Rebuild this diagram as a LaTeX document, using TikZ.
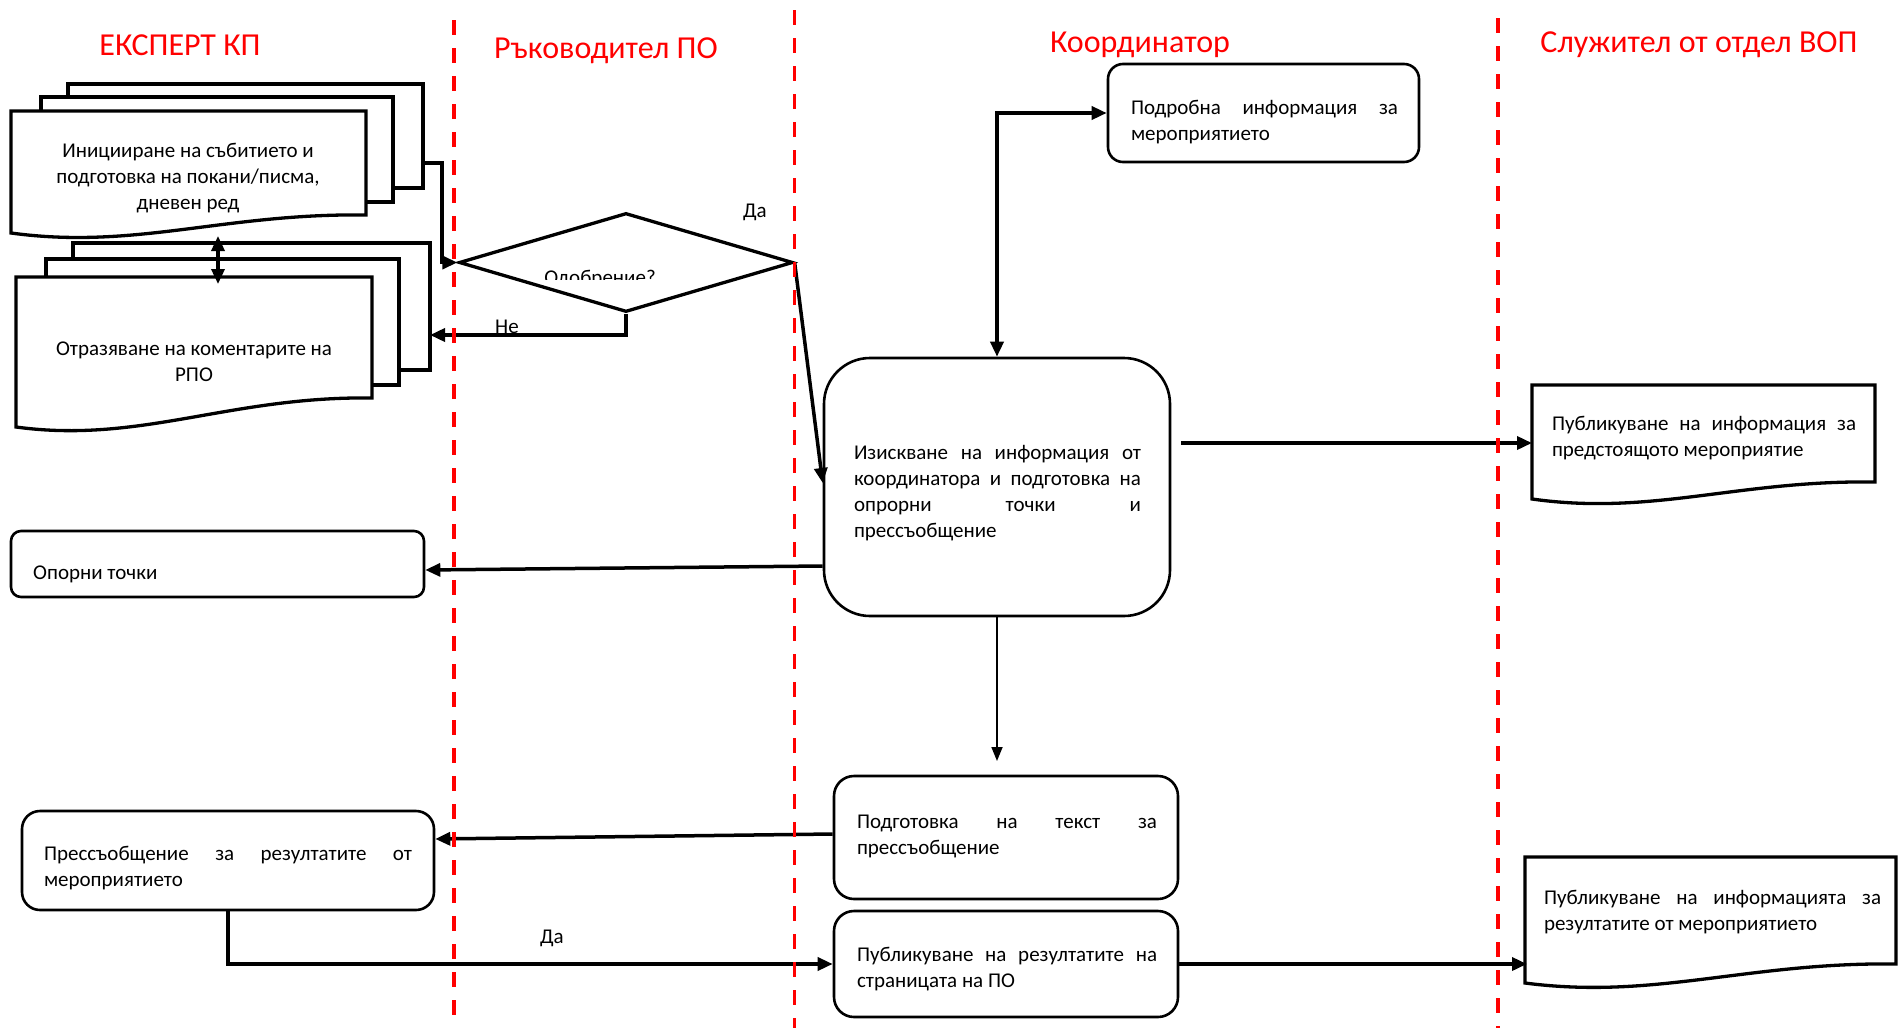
\documentclass[tikz,border=0pt]{standalone}
\usepackage{fontspec}
\setmainfont{Carlito}
\usetikzlibrary{arrows.meta,shapes.geometric}
\tikzset{
  lane/.style={red, line width=3.5pt, dash pattern=on 15pt off 13pt},
  title/.style={red, font=\fontsize{32}{37}\selectfont, inner sep=0pt},
  docline/.style={draw=black, fill=white, line width=3.3pt},
  rbox/.style={draw, rounded corners=#1, line width=2.6pt, inner sep=0pt, fill=white},
  txt/.style={font=\fontsize{21}{26}\selectfont, inner sep=0pt},
  jtxt/.style={txt, text width=#1, align=justify},
  arr/.style={line width=3.5pt, -{Triangle[length=15pt,width=13pt]}},
  darr/.style={line width=3.5pt, {Triangle[length=15pt,width=13pt]}-{Triangle[length=15pt,width=13pt]}},
  thinarr/.style={line width=1.7pt, -{Triangle[length=14pt,width=11pt]}},
}
\newcommand{\docshp}[5]{%
  \draw[docline] (#1,#2) -- (#3,#2) -- (#3,#4)
    .. controls ({#1+0.6*(#3-#1)},{#4-2}) and ({#1+0.35*(#3-#1)},{#5+17}) .. (#1,#5) -- cycle;}
\tolerance=9999
\hyphenpenalty=10000
\begin{document}
\begin{tikzpicture}[x=1pt,y=-1pt]
\fill[white] (0,0) rectangle (1899,1028);
\useasboundingbox (0,0) rectangle (1899,1028);

% lane titles
\node[title] (h1) at (180,45) {ЕКСПЕРТ КП};
\node[title] (h2) at (606,51) {Ръководител ПО};
\node[title] (h3) at (1140,45) {Координатор};
\node[title] (h4) at (1699,45) {Служител от отдел ВОП};

% multi-document 1
\draw[docline] (68,84) rectangle (423,188);
\draw[docline] (41,97) rectangle (393,202);
\docshp{11}{111}{366}{215}{233}
\node[txt, align=center] (t1) at (188,178.5) {Иницииране на събитието и\\подготовка на покани/писма,\\дневен ред};

% multi-document 2
\draw[docline] (73,243) rectangle (430,370);
\draw[docline] (46,259) rectangle (399,385);
\docshp{16}{277}{372}{398}{427}
\node[txt, align=center] (t2) at (194,361.5) {Отразяване на коментарите на\\РПО};

% documents on the right
\docshp{1532}{385}{1875}{482}{499}
\node[jtxt=304pt] (t6) at (1704,438.5) {Публикуване на информация за\linebreak предстоящото мероприятие};
\docshp{1525}{857}{1896}{964}{983}
\node[jtxt=337pt] (t11) at (1712.5,912) {Публикуване на информацията за\linebreak резултатите от мероприятието};

% decision
\node[diamond, draw, line width=3.3pt, minimum width=334pt, minimum height=99pt, inner sep=0pt] (dia) at (626,262.5) {};
\begin{scope}
\clip (459,213) rectangle (793,279);
\node[txt, anchor=base] (t3) at (600,284) {Одобрение?};
\end{scope}

% rounded boxes
\node[rbox=15pt, minimum width=311pt, minimum height=98pt] (podr) at (1263.5,113) {};
\node[jtxt=267pt] (t4) at (1264.5,122.5) {Подробна информация за\linebreak мероприятието};

\node[rbox=46pt, minimum width=346pt, minimum height=258pt] (big) at (997,487) {};
\node[jtxt=287pt] (t5) at (997.5,493.5) {Изискване на информация от\linebreak координатора и подготовка на\linebreak опрорни точки и\linebreak прессъобщение};

\node[rbox=10pt, minimum width=413pt, minimum height=66pt] (opor) at (217.5,564) {};
\node[txt, anchor=west] (t7) at (33,574.5) {Опорни точки};

\node[rbox=20pt, minimum width=344pt, minimum height=123pt] (podg) at (1006,837.5) {};
\node[jtxt=300pt] (t8) at (1007,836.5) {Подготовка на текст за\linebreak прессъобщение};

\node[rbox=18pt, minimum width=412pt, minimum height=99pt] (pres) at (228,860.5) {};
\node[jtxt=368pt] (t9) at (228,868.5) {Прессъобщение за резултатите от\linebreak мероприятието};

\node[rbox=20pt, minimum width=344pt, minimum height=106pt] (publ) at (1006,964) {};
\node[jtxt=300pt] (t10) at (1007,969.5) {Публикуване на резултатите на\linebreak страницата на ПО};

% connector end points
\coordinate (d1out) at (423,163);
\coordinate (d2in) at (430,335);
\coordinate (dblA) at (218,236);
\coordinate (dblB) at (218,284);
\coordinate (p1in) at (1532,443);
\coordinate (p2in) at (1527,964);
\coordinate (podgtop) at (997,761);

% connectors
\draw[darr] (dblA) -- (dblB);
\draw[arr] (d1out) -- ++(19,0) |- (dia.west);
\draw[arr] (dia.south) |- (d2in);
\node[txt] (ne) at (507,327) {Не};
\node[txt] (da1) at (755,212) {Да};
\draw[arr] (dia.east) -- ([yshift=4pt]big.west);
\draw[darr] (big.north) |- (podr.west);
\draw[arr] ([xshift=10pt,yshift=44pt]big.east) -- (p1in);
\draw[arr] ([yshift=-79pt]big.west) -- ([yshift=-6pt]opor.east);
\draw[thinarr] (big.south) -- (podgtop);
\draw[arr] ([yshift=3.5pt]podg.west) -- ([yshift=21.5pt]pres.east);
\draw[arr] (pres.south) |- (publ.west);
\node[txt] (da2) at (552,938) {Да};
\draw[arr] (publ.east) -- (p2in);

% swimlane separators
\draw[lane] (454,20) -- (454,1017);
\draw[lane] (794.5,10) -- (794.5,1028);
\draw[lane] (1498,18) -- (1498,1028);
\end{tikzpicture}
\end{document}
